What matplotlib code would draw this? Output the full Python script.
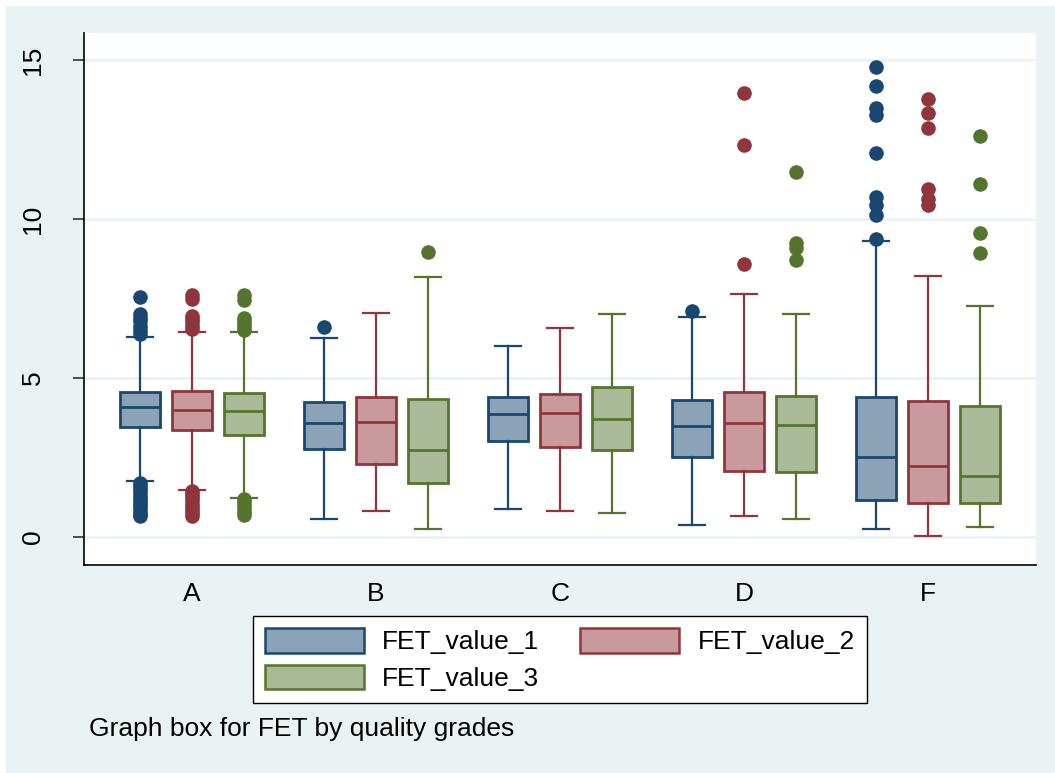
import numpy as np
import matplotlib
matplotlib.use("Agg")
import matplotlib.pyplot as plt
from matplotlib.patches import Patch, Rectangle

plt.rcParams['font.family'] = ['Liberation Sans', 'DejaVu Sans']

categories = ['A', 'B', 'C', 'D', 'F']
series_names = ['FET_value_1', 'FET_value_2', 'FET_value_3']

# box statistics
fet1_whislo = [1.77, 0.56, 0.89, 0.38, 0.24]
fet1_q1 = [3.47, 2.76, 3.01, 2.53, 1.16]
fet1_med = [4.08, 3.58, 3.87, 3.49, 2.51]
fet1_q3 = [4.57, 4.26, 4.41, 4.31, 4.41]
fet1_whishi = [6.30, 6.25, 6.02, 6.91, 9.30]
fet1_fliers = [[7.55, 7.0, 6.9, 6.8, 6.65, 6.5, 6.4,
                1.7, 1.6, 1.5, 1.4, 1.3, 1.2, 1.1, 1.0, 0.9, 0.8, 0.7, 0.65],
               [6.61], [], [7.12],
               [14.77, 14.18, 13.48, 13.27, 12.08, 10.70, 10.44, 10.13, 9.37]]

fet2_whislo = [1.48, 0.81, 0.82, 0.66, 0.03]
fet2_q1 = [3.36, 2.30, 2.84, 2.08, 1.06]
fet2_med = [3.99, 3.63, 3.89, 3.59, 2.24]
fet2_q3 = [4.60, 4.39, 4.49, 4.55, 4.28]
fet2_whishi = [6.46, 7.03, 6.57, 7.64, 8.21]
fet2_fliers = [[7.61, 7.5, 6.95, 6.85, 6.75, 6.65, 6.55,
                1.45, 1.35, 1.25, 1.15, 1.05, 0.95, 0.85, 0.75, 0.66],
               [], [], [13.95, 12.33, 8.58],
               [13.76, 13.32, 12.85, 10.93, 10.62, 10.44]]

fet3_whislo = [1.22, 0.26, 0.76, 0.56, 0.32]
fet3_q1 = [3.20, 1.71, 2.75, 2.05, 1.06]
fet3_med = [3.96, 2.74, 3.72, 3.52, 1.93]
fet3_q3 = [4.52, 4.34, 4.71, 4.44, 4.13]
fet3_whishi = [6.46, 8.17, 7.01, 7.01, 7.26]
fet3_fliers = [[7.6, 7.45, 6.9, 6.8, 6.7, 6.6, 6.5,
                1.2, 1.1, 1.0, 0.9, 0.8, 0.68],
               [8.97], [], [11.47, 9.24, 9.08, 8.71],
               [12.62, 11.10, 9.55, 8.92]]

edge_colors = ['#1A476F', '#90353B', '#55752F']
fill_colors = ['#8CA3B7', '#C89A9D', '#AAB997']
bg = '#EAF2F3'

all_series = [
    (fet1_whislo, fet1_q1, fet1_med, fet1_q3, fet1_whishi, fet1_fliers),
    (fet2_whislo, fet2_q1, fet2_med, fet2_q3, fet2_whishi, fet2_fliers),
    (fet3_whislo, fet3_q1, fet3_med, fet3_q3, fet3_whishi, fet3_fliers),
]

fig = plt.figure(figsize=(10.55, 7.73), dpi=100, facecolor='white')
fig.patches.append(Rectangle((6/1055, 0), 1, (773-6)/773, transform=fig.transFigure,
                             facecolor=bg, edgecolor='none', zorder=-10))

ax = fig.add_axes([84/1055, 1-565/773, 952/1055, 532/773])
ax.set_facecolor('white')

x = np.arange(1, len(categories)+1)
offsets = [-0.283, 0.0, 0.283]

for i, (lo, q1, med, q3, hi, fl) in enumerate(all_series):
    stats = []
    for j in range(len(categories)):
        stats.append(dict(whislo=lo[j], q1=q1[j], med=med[j], q3=q3[j],
                          whishi=hi[j], fliers=fl[j]))
    ec = edge_colors[i]
    ax.bxp(stats, positions=x + offsets[i], widths=0.217, capwidths=0.141,
           patch_artist=True, manage_ticks=False,
           boxprops=dict(facecolor=fill_colors[i], edgecolor=ec, linewidth=2.0),
           medianprops=dict(color=ec, linewidth=2.0),
           whiskerprops=dict(color=ec, linewidth=1.6),
           capprops=dict(color=ec, linewidth=1.6),
           flierprops=dict(marker='o', markerfacecolor=ec, markeredgecolor=ec,
                           markeredgewidth=0, markersize=10.5),
           zorder=3)

ax.set_xlim(0.413, 5.587)
ax.set_ylim(-0.88, 15.85)
ax.set_xticks(x)
ax.set_xticklabels(categories, fontsize=19)
ax.set_yticks([0, 5, 10, 15])
ax.set_yticklabels(['0', '5', '10', '15'], fontsize=19, rotation=90, va='center')
ax.tick_params(axis='x', length=0, pad=12)
ax.tick_params(axis='y', length=8, width=1.2, color='#333333', pad=20)
ax.yaxis.grid(True, color=bg, linewidth=2.0, zorder=0)
ax.set_axisbelow(True)
for s in ['top', 'right']:
    ax.spines[s].set_visible(False)
for s in ['left', 'bottom']:
    ax.spines[s].set_color('black')
    ax.spines[s].set_linewidth(1.2)

handles = [Patch(facecolor=fill_colors[i], edgecolor=edge_colors[i], linewidth=1.8)
           for i in range(3)]
# legend fills column by column, so reorder to get rows: 1 2 / 3
order = [0, 2, 1]
leg = fig.legend([handles[k] for k in order], [series_names[k] for k in order],
                 ncol=2, loc='center',
                 bbox_to_anchor=(560/1055, 1-659.5/773), fontsize=19,
                 handlelength=3.75, handleheight=1.06, handletextpad=0.7,
                 columnspacing=1.55, labelspacing=0.38, borderpad=0.45,
                 fancybox=False, frameon=True, framealpha=1, borderaxespad=0)
leg.get_frame().set_edgecolor('black')
leg.get_frame().set_linewidth(1.0)
leg.get_frame().set_facecolor('white')

fig.text(89/1055, 1-729/773, 'Graph box for FET by quality grades',
         fontsize=19, va='center', ha='left')

fig.savefig('out.png', dpi=100, facecolor=fig.get_facecolor())
